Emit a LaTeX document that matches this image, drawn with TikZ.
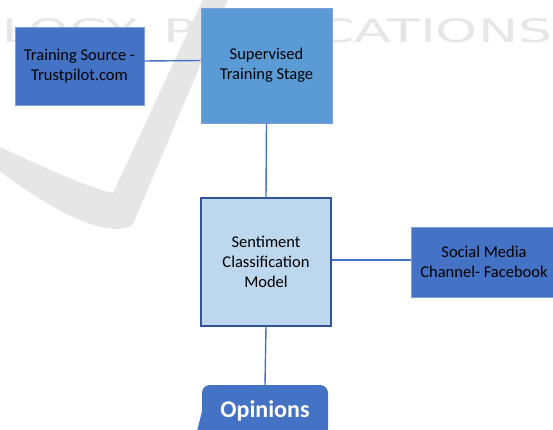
\documentclass[tikz,border=0pt]{standalone}
\usepackage{fontspec}
\setmainfont{Carlito}
\newfontfamily\markfont{DejaVu Sans}
\usepackage{graphicx}
\usetikzlibrary{positioning}
\definecolor{darkbox}{HTML}{4472C4}
\definecolor{midbox}{HTML}{5B9BD5}
\definecolor{lightbox}{HTML}{BDD7EE}
\definecolor{navyline}{HTML}{2F5597}
\definecolor{boxedge}{HTML}{7F9FD8}
\definecolor{wmgray}{HTML}{E6E6E6}

\begin{document}
\begin{tikzpicture}[x=1pt,y=-1pt,
    box/.style={draw=boxedge,line width=0.6pt,text=black,align=center,inner sep=2pt,
      font=\fontsize{16.5}{20}\selectfont},
    bubble/.style={fill=darkbox,rounded corners=8pt,text=white,font=\fontsize{24}{28}\selectfont\bfseries},
    link/.style={draw=darkbox,line width=1.4pt}]
  \useasboundingbox (0,0) rectangle (553,430);
  \clip (0,0) rectangle (553,430);

  % watermark behind the diagram
  \fill[wmgray] (-5,145) .. controls (40,165) and (80,185) .. (113,193) -- (205,-5) -- (230,-5)
    -- (133,224) .. controls (128,230) and (110,231) .. (90,224)
    .. controls (55,211) and (25,190) .. (-5,168) -- cycle;
  \node[text=wmgray,anchor=west,inner sep=0] (logy) at (2,31) {\resizebox{135pt}{24pt}{\markfont LOGY}};
  \node[text=wmgray,anchor=west,inner sep=0] (publ) at (163,31) {\resizebox{389pt}{24pt}{\markfont PUBLICATIONS}};

  \node[box,fill=darkbox,minimum width=129,minimum height=78] (source) at (79.5,66) {Training Source -\\Trustpilot.com};
  \node[box,fill=midbox,minimum width=131,minimum height=115] (stage) at (266.5,65.5) {Supervised\\Training Stage};
  \node[box,fill=lightbox,draw=navyline,line width=1.2pt,minimum width=130,minimum height=128] (model) at (266,262) {Sentiment\\Classification\\Model};
  \node[box,fill=darkbox,minimum width=146,minimum height=70] (social) at (484,262) {Social Media\\Channel- Facebook};
  \node[bubble,minimum width=126,minimum height=52] (opinions) at (265,411) {Opinions};
  % pointer of the speech bubble
  \fill[darkbox] ([yshift=25pt]opinions.south west) -- ([xshift=-9pt,yshift=-11pt]opinions.south west)
    -- ([xshift=20pt]opinions.south west) -- cycle;

  \draw[link] ([yshift=5pt]source.east) -- ([yshift=5pt]stage.west);
  \draw[link] (stage.south) -- (model.north);
  \draw[link] ([yshift=2pt]model.east) -- ([yshift=2pt]social.west);
  \draw[link] (model.south) -- (opinions.north);

\end{tikzpicture}
\end{document}
